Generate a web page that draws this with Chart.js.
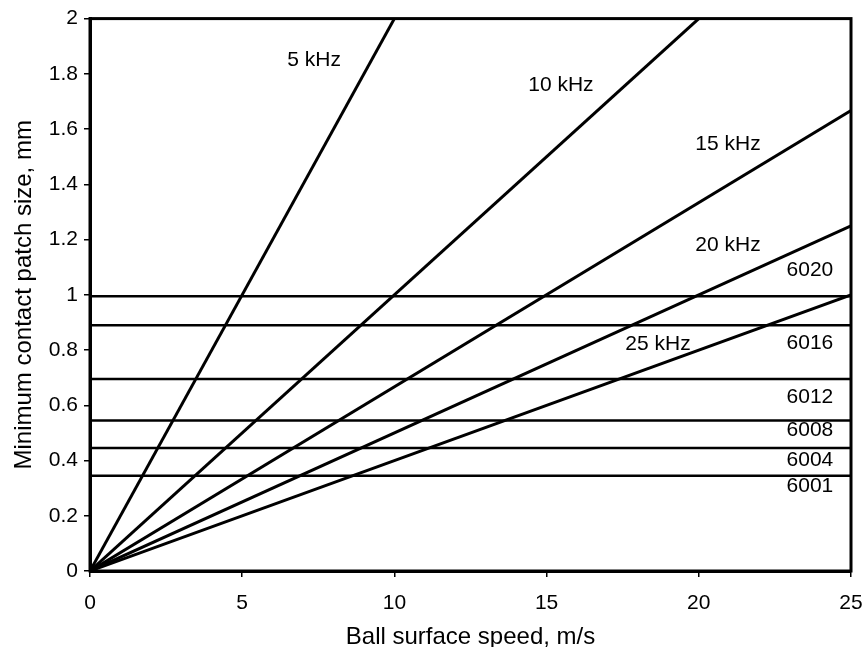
<!DOCTYPE html>
<html>
<head>
<meta charset="utf-8">
<script src="https://cdn.jsdelivr.net/npm/chart.js@4/dist/chart.umd.min.js"></script>
<style>
  html, body { margin: 0; padding: 0; background: #fff; }
  #wrap { width: 865px; height: 647px; }
</style>
</head>
<body>
<div id="wrap"><canvas id="patchChart"></canvas></div>
<script>
// frequency lines: patch size = speed / frequency
const freqLabels = ["5 kHz", "10 kHz", "15 kHz", "20 kHz", "25 kHz"];
const freqSpeed  = [[0, 10], [0, 20], [0, 25], [0, 25], [0, 25]];
const freqSize   = [[0, 2], [0, 2], [0, 1.667], [0, 1.25], [0, 1]];

// bearing minimum patch sizes (horizontal lines)
const bearingLabels = ["6020", "6016", "6012", "6008", "6004", "6001"];
const bearingSize   = [0.995, 0.89, 0.695, 0.545, 0.445, 0.345];
const speedRange    = [0, 25];

// where the text labels sit, in data units
const freqLabelPos    = [[7.36, 1.85], [15.47, 1.76], [20.96, 1.545], [20.96, 1.18], [18.66, 0.82]];
const bearingLabelPos = [[23.65, 1.088], [23.65, 0.826], [23.65, 0.628], [23.65, 0.511], [23.65, 0.40], [23.65, 0.306]];

const FONT = "'Liberation Sans', Arial, sans-serif";

const datasets = [];
freqLabels.forEach((name, i) => {
  datasets.push({
    label: name,
    data: freqSpeed[i].map((x, j) => ({ x, y: freqSize[i][j] })),
    borderColor: "#000",
    borderWidth: 3,
    pointRadius: 0
  });
});
bearingLabels.forEach((name, i) => {
  datasets.push({
    label: name,
    data: speedRange.map(x => ({ x, y: bearingSize[i] })),
    borderColor: "#000",
    borderWidth: 2.5,
    pointRadius: 0
  });
});

// frame + in-plot text labels
const labelPlugin = {
  id: "labels",
  afterDraw(chart) {
    const { ctx, chartArea: a, scales: { x, y } } = chart;
    ctx.save();
    ctx.strokeStyle = "#000";
    ctx.lineWidth = 3;
    ctx.strokeRect(a.left, a.top, a.right - a.left, a.bottom - a.top);
    ctx.fillStyle = "#000";
    ctx.font = "21px " + FONT;
    ctx.textAlign = "center";
    ctx.textBaseline = "middle";
    freqLabels.forEach((t, i) => {
      ctx.fillText(t, x.getPixelForValue(freqLabelPos[i][0]), y.getPixelForValue(freqLabelPos[i][1]));
    });
    bearingLabels.forEach((t, i) => {
      ctx.fillText(t, x.getPixelForValue(bearingLabelPos[i][0]), y.getPixelForValue(bearingLabelPos[i][1]));
    });
    ctx.restore();
  }
};

new Chart(document.getElementById("patchChart"), {
  type: "scatter",
  data: { datasets },
  plugins: [labelPlugin],
  options: {
    responsive: true,
    maintainAspectRatio: false,
    animation: false,
    showLine: true,
    layout: { padding: { top: 6, right: 14, left: 10, bottom: 0 } },
    plugins: {
      legend: { display: false },
      tooltip: { enabled: false }
    },
    scales: {
      x: {
        type: "linear",
        min: 0,
        max: 25,
        afterFit(s) { s.height = 76; s.paddingRight = 0; },
        ticks: {
          stepSize: 5,
          color: "#000",
          padding: 14,
          font: { family: FONT, size: 21 }
        },
        grid: { drawOnChartArea: false, color: "#000", tickLength: 6, lineWidth: 1.5 },
        border: { color: "#000", width: 3 },
        title: {
          display: true,
          text: "Ball surface speed, m/s",
          color: "#000",
          padding: { top: 4, bottom: -5 },
          font: { family: FONT, size: 24 }
        }
      },
      y: {
        min: 0,
        max: 2,
        afterFit(s) { s.width = 80; },
        ticks: {
          stepSize: 0.2,
          color: "#000",
          padding: 6,
          font: { family: FONT, size: 21 },
          callback: v => Math.round(v * 10) / 10
        },
        grid: { drawOnChartArea: false, color: "#000", tickLength: 6, lineWidth: 1.5 },
        border: { color: "#000", width: 3 },
        title: {
          display: true,
          text: "Minimum contact patch size, mm",
          color: "#000",
          padding: { top: 0, bottom: 0 },
          font: { family: FONT, size: 24 }
        }
      }
    }
  }
});
</script>
</body>
</html>
